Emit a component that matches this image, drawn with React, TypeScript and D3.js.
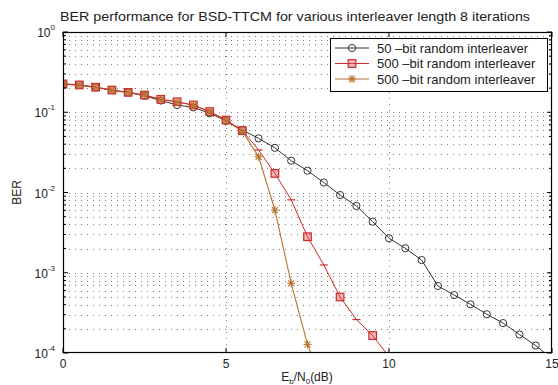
import React from "react";
import * as d3 from "d3";

const xValues = [0, 0.5, 1, 1.5, 2, 2.5, 3, 3.5, 4, 4.5, 5, 5.5, 6, 6.5, 7, 7.5, 8, 8.5, 9, 9.5, 10, 10.5, 11, 11.5, 12, 12.5, 13, 13.5, 14, 14.5, 15];
const ber50 = [0.225, 0.219, 0.205, 0.189, 0.176, 0.16, 0.14, 0.123, 0.115, 0.097, 0.078, 0.06, 0.0473, 0.036, 0.0249, 0.0187, 0.0133, 0.0093, 0.0068, 0.00433, 0.00269, 0.00202, 0.00144, 0.000684, 0.000528, 0.000404, 0.000304, 0.000236, 0.00017, 0.000124, 0.000085];
const xRed = [0, 0.5, 1, 1.5, 2, 2.5, 3, 3.5, 4, 4.5, 5, 5.5, 6, 6.5, 7, 7.5, 8, 8.5, 9, 9.5, 10];
const ber500a = [0.225, 0.219, 0.205, 0.189, 0.177, 0.164, 0.145, 0.135, 0.123, 0.102, 0.08, 0.059, 0.0339, 0.0173, 0.0081, 0.00281, 0.00125, 0.000499, 0.000261, 0.000165, 0.00009];
const xOrange = [0, 0.5, 1, 1.5, 2, 2.5, 3, 3.5, 4, 4.5, 5, 5.5, 6, 6.5, 7, 7.5, 8];
const ber500b = [0.224, 0.218, 0.204, 0.188, 0.176, 0.163, 0.144, 0.134, 0.122, 0.101, 0.079, 0.058, 0.0279, 0.00605, 0.000739, 0.000128, 0.00004];
const xTicks = [0, 5, 10, 15];
const yExps = [0, -1, -2, -3, -4];
const legendLabels = ["50 \u2013bit random interleaver", "500 \u2013bit random interleaver", "500 \u2013bit random interleaver"];
const title = "BER performance for BSD-TTCM for various interleaver length 8 iterations";

const W = 558, H = 385;
const L = 63, R = 552, T = 32, B = 353;
const FONT = "'Liberation Sans', Arial, sans-serif";

export default function App() {
  const x = d3.scaleLinear().domain([0, 15]).range([L, R]);
  const y = d3.scaleLog().domain([1e-4, 1]).range([B, T]);

  const minorVals: number[] = [];
  for (let e = -4; e < 0; e++) for (let m = 2; m <= 9; m++) minorVals.push(m * Math.pow(10, e));

  const line = d3.line<[number, number]>().x(d => x(d[0])).y(d => y(d[1]));
  const pts50: [number, number][] = xValues.map((v, i) => [v, ber50[i]]);
  const ptsRed: [number, number][] = xRed.map((v, i) => [v, ber500a[i]]);
  const ptsOr: [number, number][] = xOrange.map((v, i) => [v, ber500b[i]]);

  const black = "#333";
  const red = "#cf2a2a";
  const orange = "#b8742e";

  const circle = (cx: number, cy: number, key: any) => (
    <circle key={key} cx={cx} cy={cy} r={3.6} fill="none" stroke={black} strokeWidth={1} />
  );
  const square = (cx: number, cy: number, key: any) => (
    <rect key={key} x={cx - 3.8} y={cy - 3.8} width={7.6} height={7.6} fill="rgba(225,70,70,0.4)" stroke={red} strokeWidth={1.2} />
  );
  const dash = (cx: number, cy: number, key: any) => (
    <line key={key} x1={cx - 4} x2={cx + 4} y1={cy} y2={cy} stroke={red} strokeWidth={1.2} />
  );
  const star = (cx: number, cy: number, key: any) => (
    <g key={key} stroke={orange} strokeWidth={1.1}>
      <line x1={cx - 4} x2={cx + 4} y1={cy} y2={cy} />
      <line x1={cx} x2={cx} y1={cy - 4} y2={cy + 4} />
      <line x1={cx - 3} x2={cx + 3} y1={cy - 3} y2={cy + 3} />
      <line x1={cx - 3} x2={cx + 3} y1={cy + 3} y2={cy - 3} />
    </g>
  );

  return (
    <svg width={W} height={H} style={{ position: "fixed", left: 0, top: 0, background: "#fff" }} fontFamily={FONT}>
      <rect x={0} y={0} width={W} height={H} fill="#fff" />
      <defs>
        <clipPath id="plot"><rect x={L} y={T} width={R - L} height={B - T} /></clipPath>
      </defs>
      {/* grid */}
      <g stroke="#444" strokeWidth={1} strokeDasharray="1 5" opacity={0.7}>
        {minorVals.map((v, i) => (
          <line key={"m" + i} x1={L} x2={R} y1={Math.round(y(v)) + 0.5} y2={Math.round(y(v)) + 0.5} />
        ))}
        {yExps.slice(1, -1).map(e => (
          <line key={"M" + e} x1={L} x2={R} y1={Math.round(y(Math.pow(10, e))) + 0.5} y2={Math.round(y(Math.pow(10, e))) + 0.5} />
        ))}
        {xTicks.slice(1, -1).map(t => (
          <line key={"v" + t} x1={Math.round(x(t)) + 0.5} x2={Math.round(x(t)) + 0.5} y1={T} y2={B} />
        ))}
      </g>
      {/* series */}
      <g clipPath="url(#plot)">
        <path d={line(pts50) || ""} fill="none" stroke={black} strokeWidth={1} />
        {pts50.map((p, i) => circle(x(p[0]), y(p[1]), "c" + i))}
        <path d={line(ptsOr) || ""} fill="none" stroke={orange} strokeWidth={1.1} />
        <path d={line(ptsRed) || ""} fill="none" stroke={red} strokeWidth={1} />
        {ptsRed.map((p, i) => (p[0] <= 5.5 || i % 2 === 1 ? square(x(p[0]), y(p[1]), "s" + i) : dash(x(p[0]), y(p[1]), "s" + i)))}
        {ptsOr.map((p, i) => star(x(p[0]), y(p[1]), "o" + i))}
      </g>
      {/* axes box */}
      <rect x={L + 0.5} y={T + 0.5} width={R - L - 1} height={B - T - 1} fill="none" stroke="#000" strokeWidth={1.2} />
      {/* ticks */}
      <g stroke="#000" strokeWidth={1}>
        {xTicks.map(t => (
          <g key={"xt" + t}>
            <line x1={x(t)} x2={x(t)} y1={B} y2={B - 5} />
            <line x1={x(t)} x2={x(t)} y1={T} y2={T + 5} />
          </g>
        ))}
        {yExps.map(e => (
          <g key={"yt" + e}>
            <line x1={L} x2={L + 5} y1={y(Math.pow(10, e))} y2={y(Math.pow(10, e))} />
            <line x1={R} x2={R - 5} y1={y(Math.pow(10, e))} y2={y(Math.pow(10, e))} />
          </g>
        ))}
        {minorVals.map((v, i) => (
          <g key={"mt" + i}>
            <line x1={L} x2={L + 3} y1={y(v)} y2={y(v)} />
            <line x1={R} x2={R - 3} y1={y(v)} y2={y(v)} />
          </g>
        ))}
      </g>
      {/* tick labels */}
      <g fontSize={12} fill="#222">
        {xTicks.map(t => (
          <text key={"xl" + t} x={x(t)} y={368} textAnchor="middle">{t}</text>
        ))}
        {yExps.map(e => (
          <text key={"yl" + e} x={L - 8} y={y(Math.pow(10, e)) + 5} textAnchor="end">
            10<tspan fontSize={8} dy={-7}>{e}</tspan>
          </text>
        ))}
      </g>
      {/* axis labels */}
      <text x={307} y={381} textAnchor="middle" fontSize={12} fill="#222">
        E<tspan fontSize={8} dy={3}>b</tspan><tspan dy={-3}>/N</tspan><tspan fontSize={8} dy={3}>0</tspan><tspan dy={-3}>(dB)</tspan>
      </text>
      <text transform={`translate(21,${(T + B) / 2}) rotate(-90)`} textAnchor="middle" fontSize={12} fill="#222">BER</text>
      <text x={L - 3} y={21} fontSize={13} fill="#222" textLength={470} lengthAdjust="spacingAndGlyphs">{title}</text>
      {/* legend */}
      <g>
        <rect x={330.5} y={38.5} width={217} height={53} fill="#fff" stroke="#000" strokeWidth={1} />
        {legendLabels.map((lab, i) => {
          const ly = 48 + i * 15.5;
          const col = i === 0 ? black : i === 1 ? red : orange;
          return (
            <g key={"lg" + i}>
              <line x1={335} x2={369} y1={ly} y2={ly} stroke={col} strokeWidth={1} />
              {i === 0 ? circle(352, ly, "lc") : i === 1 ? square(352, ly, "ls") : star(352, ly, "lo")}
              <text x={377} y={ly + 4.5} fontSize={13} fill="#222">{lab}</text>
            </g>
          );
        })}
      </g>
    </svg>
  );
}
